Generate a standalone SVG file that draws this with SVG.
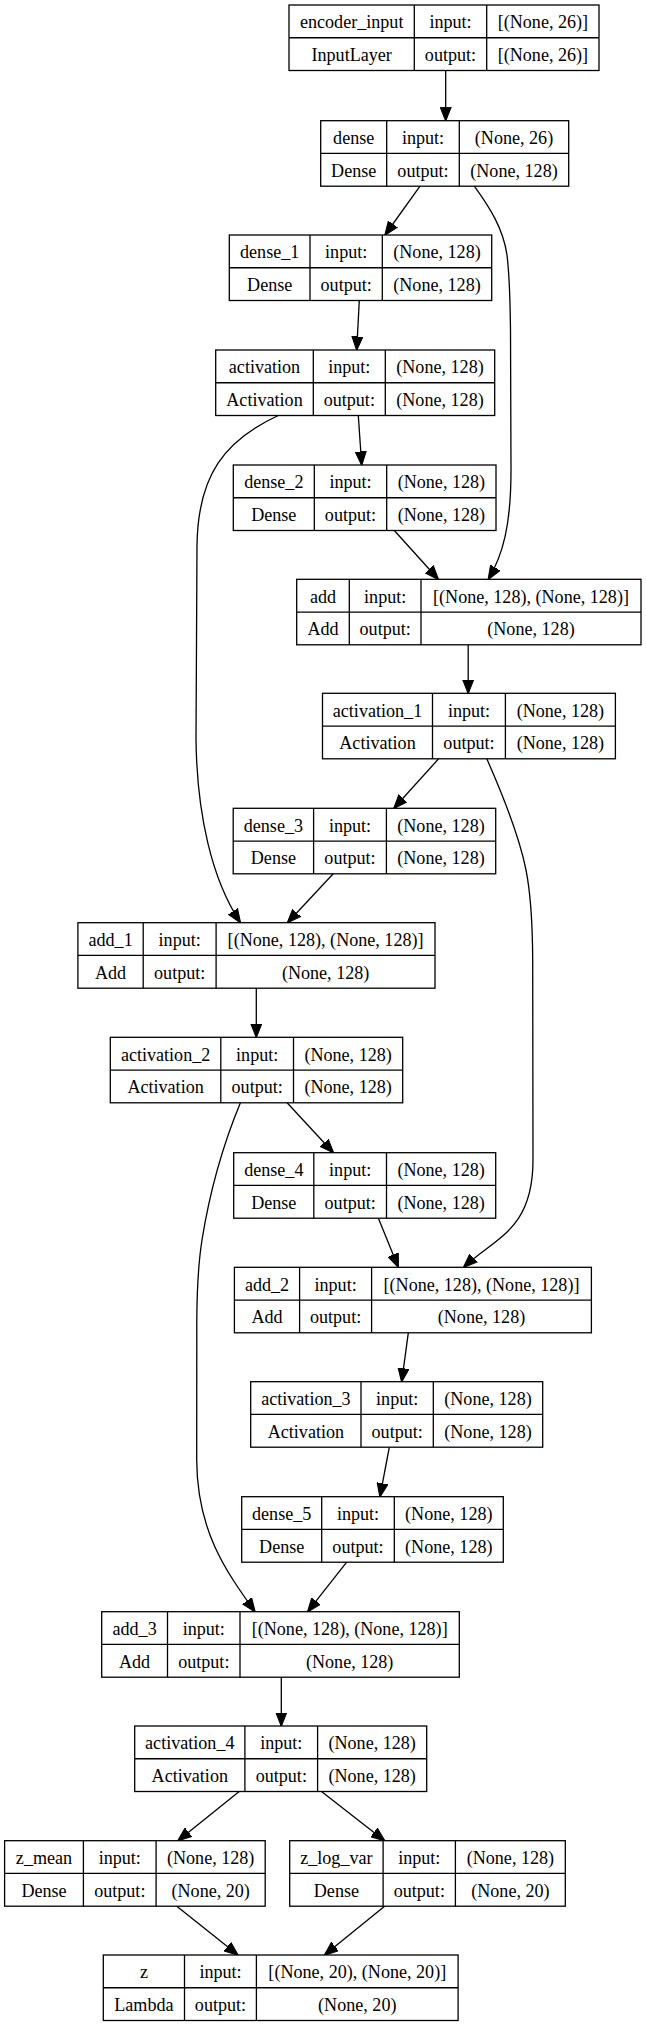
<svg xmlns="http://www.w3.org/2000/svg" width="646" height="2027" viewBox="0 0 646 2027" font-family="'Liberation Serif', 'Times New Roman', serif">
<style>
.n rect{fill:#fff;stroke:#000;stroke-width:1.3}
.n line{stroke:#000;stroke-width:1.3}
text{font-family:'Liberation Serif','Times New Roman',serif;font-size:18.1px;fill:#000;text-anchor:middle}
#edges path{fill:none;stroke:#000;stroke-width:1.3;marker-end:url(#ah)}
</style>
<defs>
<marker id="ah" markerUnits="userSpaceOnUse" markerWidth="14" markerHeight="12" viewBox="0 0 14 12" refX="13.5" refY="6" orient="auto">
<path d="M0,0.5 L14,6 L0,11.5 Z" fill="#000" stroke="#000" stroke-width="1"/>
</marker>
</defs>
<rect width="646" height="2027" fill="#fff"/>

<g id="edges">
<path d="M445.7,70.5 L445.7,120.7"/>
<path d="M420,186.2 L385,235"/>
<path d="M359.3,300.5 L356.7,350"/>
<path d="M358.3,415.5 L361.7,465"/>
<path d="M394.3,530.5 L438.3,579.3"/>
<path d="M474.3,186.2 C490,208 503,228 507,255 C510,280 510,300 510.5,330 L511,470 C511,525 503,555 488.3,579.3"/>
<path d="M468.2,644.8 L468.2,693.3"/>
<path d="M438.6,758.8 L393.9,808.3"/>
<path d="M278.3,415.5 C225,440 198,475 197,545 L196,740 C197,815 212,880 240.4,922.7"/>
<path d="M333.2,873.8 L287.5,922.7"/>
<path d="M486.8,758.8 C505,800 520,840 526,870 C531,895 532.5,920 532.7,960 L533,1160 C533,1230 495,1238 463.6,1267.3"/>
<path d="M256.3,988.2 L256.3,1037.3"/>
<path d="M287.1,1102.8 L333.4,1152.7"/>
<path d="M378.4,1218.2 L398.3,1267.3"/>
<path d="M240.4,1102.8 C225,1140 210,1190 202,1240 C198,1265 197,1290 196.8,1320 L196.7,1460 C197,1530 225,1570 255,1611.7"/>
<path d="M408.3,1332.8 L401.7,1381.7"/>
<path d="M389.3,1447.2 L380,1496.7"/>
<path d="M346.7,1562.2 L307.7,1611.7"/>
<path d="M281.3,1677.2 L281.3,1726"/>
<path d="M239.2,1791.5 L178,1840.7"/>
<path d="M321.5,1791.5 L384.6,1840.7"/>
<path d="M176.8,1906.2 L238,1955"/>
<path d="M384.6,1906.2 L324.5,1955"/>
</g>

<g id="encoder_input" class="n">
<rect x="289" y="5" width="310" height="65.5"/>
<line x1="289" y1="37.75" x2="599" y2="37.75"/>
<line x1="414.3" y1="5" x2="414.3" y2="70.5"/><line x1="486.7" y1="5" x2="486.7" y2="70.5"/>
<text x="351.7" y="28.4">encoder_input</text><text x="450.5" y="28.4">input:</text><text x="542.9" y="28.4">[(None, 26)]</text>
<text x="351.7" y="61.1">InputLayer</text><text x="450.5" y="61.1">output:</text><text x="542.9" y="61.1">[(None, 26)]</text>
</g>

<g id="dense" class="n">
<rect x="320.7" y="120.7" width="248" height="65.5"/>
<line x1="320.7" y1="153.45" x2="568.7" y2="153.45"/>
<line x1="386.7" y1="120.7" x2="386.7" y2="186.2"/><line x1="459.3" y1="120.7" x2="459.3" y2="186.2"/>
<text x="353.7" y="144.1">dense</text><text x="423" y="144.1">input:</text><text x="514" y="144.1">(None, 26)</text>
<text x="353.7" y="176.8">Dense</text><text x="423" y="176.8">output:</text><text x="514" y="176.8">(None, 128)</text>
</g>

<g id="dense_1" class="n">
<rect x="229.3" y="235" width="262.4" height="65.5"/>
<line x1="229.3" y1="267.75" x2="491.7" y2="267.75"/>
<line x1="310" y1="235" x2="310" y2="300.5"/><line x1="382.3" y1="235" x2="382.3" y2="300.5"/>
<text x="269.7" y="258.4">dense_1</text><text x="346.2" y="258.4">input:</text><text x="437" y="258.4">(None, 128)</text>
<text x="269.7" y="291.1">Dense</text><text x="346.2" y="291.1">output:</text><text x="437" y="291.1">(None, 128)</text>
</g>

<g id="activation" class="n">
<rect x="215.7" y="350" width="279" height="65.5"/>
<line x1="215.7" y1="382.75" x2="494.7" y2="382.75"/>
<line x1="313.3" y1="350" x2="313.3" y2="415.5"/><line x1="385.3" y1="350" x2="385.3" y2="415.5"/>
<text x="264.5" y="373.4">activation</text><text x="349.3" y="373.4">input:</text><text x="440" y="373.4">(None, 128)</text>
<text x="264.5" y="406.1">Activation</text><text x="349.3" y="406.1">output:</text><text x="440" y="406.1">(None, 128)</text>
</g>

<g id="dense_2" class="n">
<rect x="233.3" y="465" width="262.7" height="65.5"/>
<line x1="233.3" y1="497.75" x2="496" y2="497.75"/>
<line x1="314.3" y1="465" x2="314.3" y2="530.5"/><line x1="386.7" y1="465" x2="386.7" y2="530.5"/>
<text x="273.8" y="488.4">dense_2</text><text x="350.5" y="488.4">input:</text><text x="441.4" y="488.4">(None, 128)</text>
<text x="273.8" y="521.1">Dense</text><text x="350.5" y="521.1">output:</text><text x="441.4" y="521.1">(None, 128)</text>
</g>

<g id="add" class="n">
<rect x="296.7" y="579.3" width="344.3" height="65.5"/>
<line x1="296.7" y1="612.05" x2="641" y2="612.05"/>
<line x1="349.3" y1="579.3" x2="349.3" y2="644.8"/><line x1="421" y1="579.3" x2="421" y2="644.8"/>
<text x="323" y="602.7">add</text><text x="385.2" y="602.7">input:</text><text x="531" y="602.7">[(None, 128), (None, 128)]</text>
<text x="323" y="635.4">Add</text><text x="385.2" y="635.4">output:</text><text x="531" y="635.4">(None, 128)</text>
</g>

<g id="activation_1" class="n">
<rect x="322.5" y="693.3" width="292.9" height="65.5"/>
<line x1="322.5" y1="726.05" x2="615.4" y2="726.05"/>
<line x1="432.5" y1="693.3" x2="432.5" y2="758.8"/><line x1="505.4" y1="693.3" x2="505.4" y2="758.8"/>
<text x="377.5" y="716.7">activation_1</text><text x="469" y="716.7">input:</text><text x="560.4" y="716.7">(None, 128)</text>
<text x="377.5" y="749.4">Activation</text><text x="469" y="749.4">output:</text><text x="560.4" y="749.4">(None, 128)</text>
</g>

<g id="dense_3" class="n">
<rect x="233.2" y="808.3" width="262.5" height="65.5"/>
<line x1="233.2" y1="841.05" x2="495.7" y2="841.05"/>
<line x1="313.6" y1="808.3" x2="313.6" y2="873.8"/><line x1="386.4" y1="808.3" x2="386.4" y2="873.8"/>
<text x="273.4" y="831.7">dense_3</text><text x="350" y="831.7">input:</text><text x="441" y="831.7">(None, 128)</text>
<text x="273.4" y="864.4">Dense</text><text x="350" y="864.4">output:</text><text x="441" y="864.4">(None, 128)</text>
</g>

<g id="add_1" class="n">
<rect x="77.9" y="922.7" width="357.1" height="65.5"/>
<line x1="77.9" y1="955.45" x2="435" y2="955.45"/>
<line x1="143.2" y1="922.7" x2="143.2" y2="988.2"/><line x1="216.1" y1="922.7" x2="216.1" y2="988.2"/>
<text x="110.6" y="946.1">add_1</text><text x="179.7" y="946.1">input:</text><text x="325.6" y="946.1">[(None, 128), (None, 128)]</text>
<text x="110.6" y="978.8">Add</text><text x="179.7" y="978.8">output:</text><text x="325.6" y="978.8">(None, 128)</text>
</g>

<g id="activation_2" class="n">
<rect x="110.3" y="1037.3" width="292.4" height="65.5"/>
<line x1="110.3" y1="1070.05" x2="402.7" y2="1070.05"/>
<line x1="220.8" y1="1037.3" x2="220.8" y2="1102.8"/><line x1="293.5" y1="1037.3" x2="293.5" y2="1102.8"/>
<text x="165.6" y="1060.7">activation_2</text><text x="257.2" y="1060.7">input:</text><text x="348.1" y="1060.7">(None, 128)</text>
<text x="165.6" y="1093.4">Activation</text><text x="257.2" y="1093.4">output:</text><text x="348.1" y="1093.4">(None, 128)</text>
</g>

<g id="dense_4" class="n">
<rect x="233.7" y="1152.7" width="262" height="65.5"/>
<line x1="233.7" y1="1185.45" x2="495.7" y2="1185.45"/>
<line x1="313.8" y1="1152.7" x2="313.8" y2="1218.2"/><line x1="386.5" y1="1152.7" x2="386.5" y2="1218.2"/>
<text x="273.8" y="1176.1">dense_4</text><text x="350.2" y="1176.1">input:</text><text x="441.1" y="1176.1">(None, 128)</text>
<text x="273.8" y="1208.8">Dense</text><text x="350.2" y="1208.8">output:</text><text x="441.1" y="1208.8">(None, 128)</text>
</g>

<g id="add_2" class="n">
<rect x="234.4" y="1267.3" width="357" height="65.5"/>
<line x1="234.4" y1="1300.05" x2="591.4" y2="1300.05"/>
<line x1="299.6" y1="1267.3" x2="299.6" y2="1332.8"/><line x1="371.6" y1="1267.3" x2="371.6" y2="1332.8"/>
<text x="267" y="1290.7">add_2</text><text x="335.6" y="1290.7">input:</text><text x="481.5" y="1290.7">[(None, 128), (None, 128)]</text>
<text x="267" y="1323.4">Add</text><text x="335.6" y="1323.4">output:</text><text x="481.5" y="1323.4">(None, 128)</text>
</g>

<g id="activation_3" class="n">
<rect x="250.7" y="1381.7" width="292" height="65.5"/>
<line x1="250.7" y1="1414.45" x2="542.7" y2="1414.45"/>
<line x1="361" y1="1381.7" x2="361" y2="1447.2"/><line x1="433.3" y1="1381.7" x2="433.3" y2="1447.2"/>
<text x="305.9" y="1405.1">activation_3</text><text x="397.2" y="1405.1">input:</text><text x="488" y="1405.1">(None, 128)</text>
<text x="305.9" y="1437.8">Activation</text><text x="397.2" y="1437.8">output:</text><text x="488" y="1437.8">(None, 128)</text>
</g>

<g id="dense_5" class="n">
<rect x="241.7" y="1496.7" width="261.6" height="65.5"/>
<line x1="241.7" y1="1529.45" x2="503.3" y2="1529.45"/>
<line x1="321.7" y1="1496.7" x2="321.7" y2="1562.2"/><line x1="394.3" y1="1496.7" x2="394.3" y2="1562.2"/>
<text x="281.7" y="1520.1">dense_5</text><text x="358" y="1520.1">input:</text><text x="448.8" y="1520.1">(None, 128)</text>
<text x="281.7" y="1552.8">Dense</text><text x="358" y="1552.8">output:</text><text x="448.8" y="1552.8">(None, 128)</text>
</g>

<g id="add_3" class="n">
<rect x="101.7" y="1611.7" width="357.6" height="65.5"/>
<line x1="101.7" y1="1644.45" x2="459.3" y2="1644.45"/>
<line x1="167.5" y1="1611.7" x2="167.5" y2="1677.2"/><line x1="240" y1="1611.7" x2="240" y2="1677.2"/>
<text x="134.6" y="1635.1">add_3</text><text x="203.8" y="1635.1">input:</text><text x="349.7" y="1635.1">[(None, 128), (None, 128)]</text>
<text x="134.6" y="1667.8">Add</text><text x="203.8" y="1667.8">output:</text><text x="349.7" y="1667.8">(None, 128)</text>
</g>

<g id="activation_4" class="n">
<rect x="134.7" y="1726" width="292" height="65.5"/>
<line x1="134.7" y1="1758.75" x2="426.7" y2="1758.75"/>
<line x1="244.9" y1="1726" x2="244.9" y2="1791.5"/><line x1="317.6" y1="1726" x2="317.6" y2="1791.5"/>
<text x="189.8" y="1749.4">activation_4</text><text x="281.3" y="1749.4">input:</text><text x="372.2" y="1749.4">(None, 128)</text>
<text x="189.8" y="1782.1">Activation</text><text x="281.3" y="1782.1">output:</text><text x="372.2" y="1782.1">(None, 128)</text>
</g>

<g id="z_mean" class="n">
<rect x="4.6" y="1840.7" width="260.6" height="65.5"/>
<line x1="4.6" y1="1873.45" x2="265.2" y2="1873.45"/>
<line x1="83.4" y1="1840.7" x2="83.4" y2="1906.2"/><line x1="156.1" y1="1840.7" x2="156.1" y2="1906.2"/>
<text x="44" y="1864.1">z_mean</text><text x="119.8" y="1864.1">input:</text><text x="210.7" y="1864.1">(None, 128)</text>
<text x="44" y="1896.8">Dense</text><text x="119.8" y="1896.8">output:</text><text x="210.7" y="1896.8">(None, 20)</text>
</g>

<g id="z_log_var" class="n">
<rect x="289.7" y="1840.7" width="275.6" height="65.5"/>
<line x1="289.7" y1="1873.45" x2="565.3" y2="1873.45"/>
<line x1="383.1" y1="1840.7" x2="383.1" y2="1906.2"/><line x1="455.4" y1="1840.7" x2="455.4" y2="1906.2"/>
<text x="336.4" y="1864.1">z_log_var</text><text x="419.3" y="1864.1">input:</text><text x="510.4" y="1864.1">(None, 128)</text>
<text x="336.4" y="1896.8">Dense</text><text x="419.3" y="1896.8">output:</text><text x="510.4" y="1896.8">(None, 20)</text>
</g>

<g id="z" class="n">
<rect x="103.3" y="1955" width="354.8" height="65.5"/>
<line x1="103.3" y1="1987.75" x2="458.1" y2="1987.75"/>
<line x1="184.5" y1="1955" x2="184.5" y2="2020.5"/><line x1="256.4" y1="1955" x2="256.4" y2="2020.5"/>
<text x="143.9" y="1978.4">z</text><text x="220.5" y="1978.4">input:</text><text x="357.3" y="1978.4">[(None, 20), (None, 20)]</text>
<text x="143.9" y="2011.1">Lambda</text><text x="220.5" y="2011.1">output:</text><text x="357.3" y="2011.1">(None, 20)</text>
</g>
</svg>
